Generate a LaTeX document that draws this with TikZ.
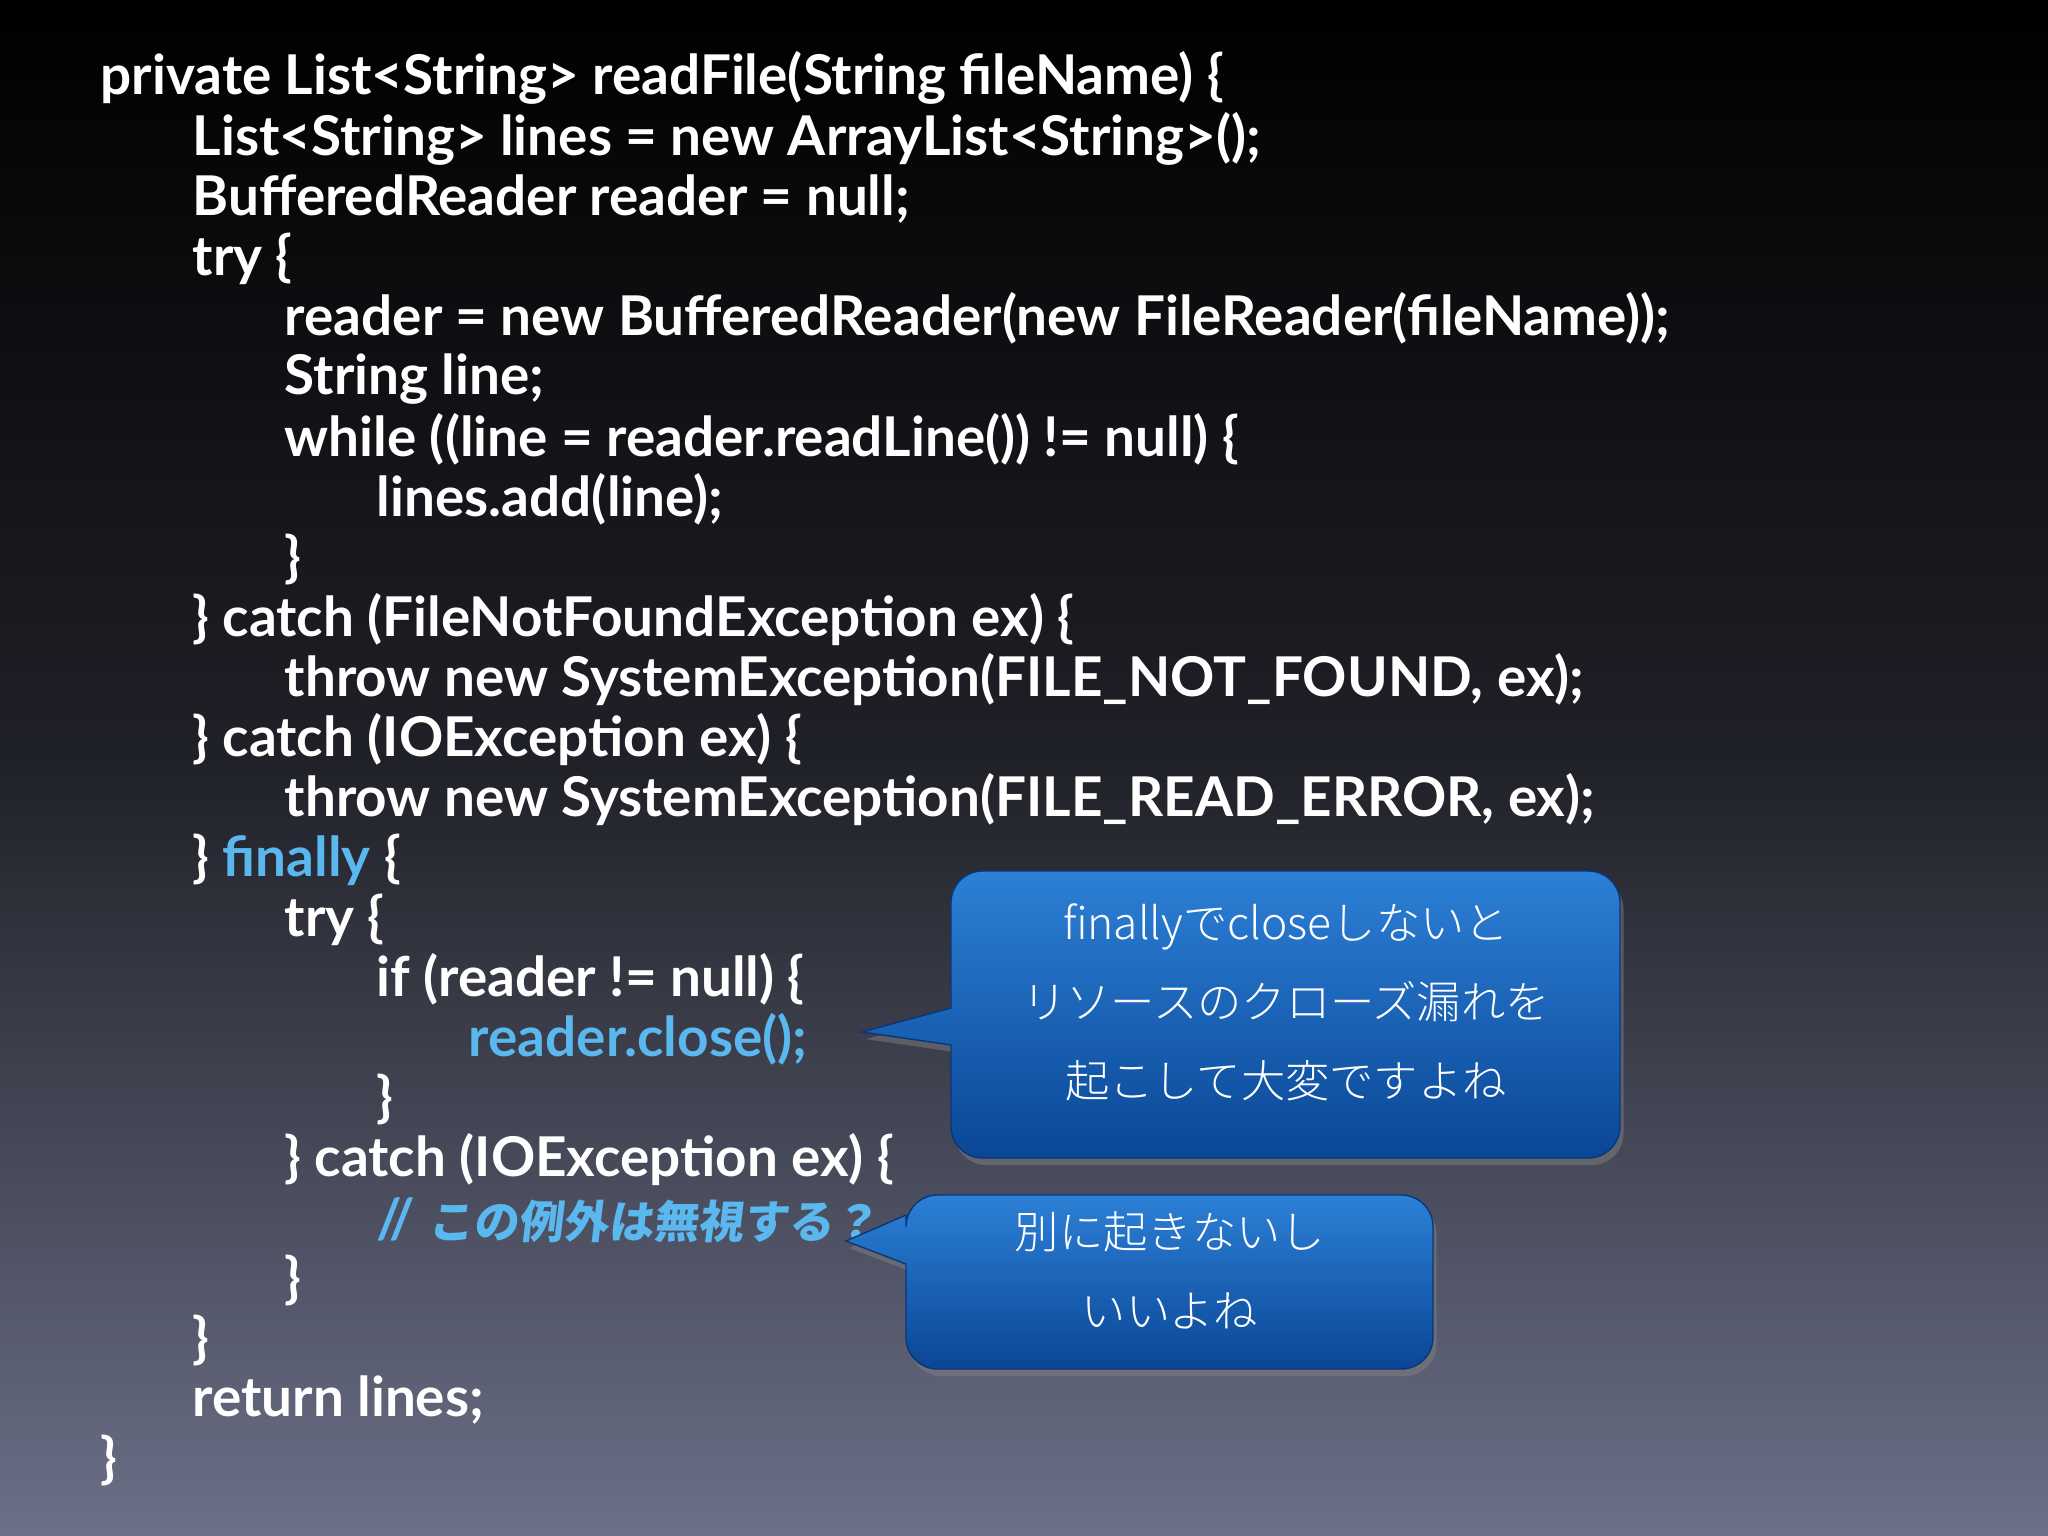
\documentclass[tikz,border=0pt]{standalone}
\usepackage{fontspec}
\setmainfont{Lato}
\newfontfamily\jp{Noto Sans CJK JP Light}
\newfontfamily\jpb[FakeSlant=0.12]{Noto Sans CJK JP Bold}
\usetikzlibrary{shadows}
\definecolor{hl}{HTML}{5AB8EE}
\definecolor{bgbot}{HTML}{6C7088}
\definecolor{ctop}{HTML}{2C80D6}
\definecolor{cbot}{HTML}{0A4696}
\begin{document}
\begin{tikzpicture}[x=0.01cm,y=-0.01cm,
  code/.style={anchor=west,text=white,font=\fontsize{15.6}{18}\selectfont\bfseries,inner sep=0pt},
  callout/.style={top color=ctop,bottom color=cbot,draw=cbot!80!black,line width=0.4pt,drop shadow={opacity=0.5,shadow xshift=1pt,shadow yshift=-2pt}},
  ctext/.style={text=white,font=\jp\fontsize{12.6}{22.5}\selectfont,align=center,inner sep=0pt}]
\shade[top color=black,bottom color=bgbot,middle color=black!70!bgbot] (0,0) rectangle (2048,1536);
\useasboundingbox (0,0) rectangle (2048,1536);
\def\L#1#2#3{\node[code] (l#1) at (#2,{78.4+60.08*(#1-1)}) {#3};}
\L{1}{100}{private List<String> readFile(String fileName) \{}
\L{2}{192}{List<String> lines = new ArrayList<String>();}
\L{3}{192}{BufferedReader reader = null;}
\L{4}{192}{try \{}
\L{5}{284}{reader = new BufferedReader(new FileReader(fileName));}
\L{6}{284}{String line;}
\L{7}{284}{while ((line = reader.readLine()) != null) \{}
\L{8}{376}{lines.add(line);}
\L{9}{284}{\}}
\L{10}{192}{\} catch (FileNotFoundException ex) \{}
\L{11}{284}{throw new SystemException(FILE\_NOT\_FOUND, ex);}
\L{12}{192}{\} catch (IOException ex) \{}
\L{13}{284}{throw new SystemException(FILE\_READ\_ERROR, ex);}
\L{14}{192}{\} \textcolor{hl}{finally} \{}
\L{15}{284}{try \{}
\L{16}{376}{if (reader != null) \{}
\L{17}{468}{\textcolor{hl}{reader.close();}}
\L{18}{376}{\}}
\L{19}{284}{\} catch (IOException ex) \{}
\L{20}{376}{\textcolor{hl}{//\ {\jpb\fontsize{12.8}{16}\selectfont この例外は無視する？}}}
\L{21}{284}{\}}
\L{22}{192}{\}}
\L{23}{192}{return lines;}
\L{24}{100}{\}}
% callout 1
\path[callout,rounded corners=9pt] (951,871) -- (1620,871) -- (1620,1158) -- (951,1158)
  [sharp corners] -- (951,1045) -- (862,1032) -- (951,1008) [rounded corners=9pt] -- cycle;
\node[ctext] (c1) at (1286,1002) {finallyでcloseしないと\\リソースのクローズ漏れを\\起こして大変ですよね};
% callout 2
\path[callout,rounded corners=9pt] (906,1195) -- (1433,1195) -- (1433,1369) -- (906,1369)
  [sharp corners] -- (906,1264) -- (846,1241) -- (906,1215) [rounded corners=9pt] -- cycle;
\node[ctext] (c2) at (1170,1270) {別に起きないし\\いいよね};
\end{tikzpicture}
\end{document}
